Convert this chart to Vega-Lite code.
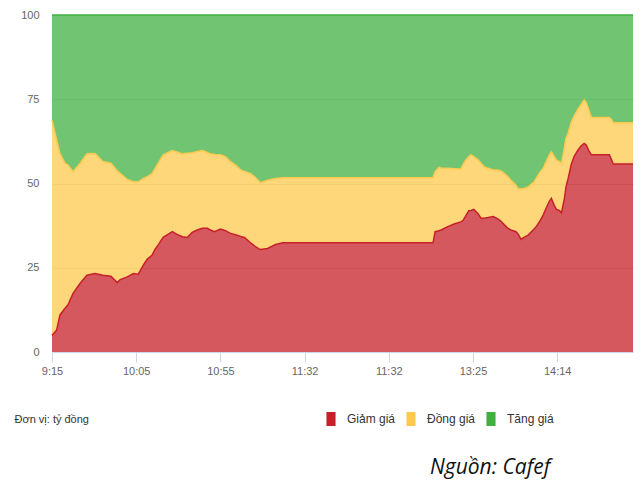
{
  "$schema": "https://vega.github.io/schema/vega-lite/v6.json",
  "width": 581,
  "height": 337,
  "autosize": "none",
  "padding": {"left": 52, "top": 15, "right": 8, "bottom": 131},
  "background": "white",
  "title": {
    "text": "Nguồn: Cafef",
    "orient": "bottom",
    "anchor": "start",
    "dx": 416,
    "offset": 31,
    "font": "Open Sans",
    "fontStyle": "italic",
    "fontWeight": "normal",
    "fontSize": 21,
    "color": "#111111"
  },
  "datasets": {
    "seriesOrder": [
      {"series": "Giảm giá", "rank": 1},
      {"series": "Đồng giá", "rank": 2},
      {"series": "Tăng giá", "rank": 3}
    ]
  },
  "data": {
    "values": [
      {"t": 0, "Giảm giá": 5.0, "Đồng giá": 63.8, "Tăng giá": 31.2},
      {"t": 0.6, "Giảm giá": 5.8, "Đồng giá": 59.7, "Tăng giá": 34.5},
      {"t": 1.1, "Giảm giá": 6.5, "Đồng giá": 56.4, "Tăng giá": 37.1},
      {"t": 1.9, "Giảm giá": 11, "Đồng giá": 47.9, "Tăng giá": 41.1},
      {"t": 3.1, "Giảm giá": 13, "Đồng giá": 43, "Tăng giá": 44},
      {"t": 3.8, "Giảm giá": 14, "Đồng giá": 41.5, "Tăng giá": 44.5},
      {"t": 5, "Giảm giá": 17.4, "Đồng giá": 36.1, "Tăng giá": 46.5},
      {"t": 6.7, "Giảm giá": 20.4, "Đồng giá": 35.6, "Tăng giá": 44},
      {"t": 8.3, "Giảm giá": 22.8, "Đồng giá": 36, "Tăng giá": 41.2},
      {"t": 10.2, "Giảm giá": 23.3, "Đồng giá": 35.6, "Tăng giá": 41.1},
      {"t": 12.1, "Giảm giá": 22.8, "Đồng giá": 33.7, "Tăng giá": 43.5},
      {"t": 14, "Giảm giá": 22.5, "Đồng giá": 33.5, "Tăng giá": 44},
      {"t": 15.5, "Giảm giá": 20.6, "Đồng giá": 33.2, "Tăng giá": 46.2},
      {"t": 16.2, "Giảm giá": 21.5, "Đồng giá": 31.5, "Tăng giá": 47},
      {"t": 17.9, "Giảm giá": 22.3, "Đồng giá": 28.9, "Tăng giá": 48.8},
      {"t": 19.3, "Giảm giá": 23.3, "Đồng giá": 27.2, "Tăng giá": 49.5},
      {"t": 20.5, "Giảm giá": 23.1, "Đồng giá": 27.4, "Tăng giá": 49.5},
      {"t": 21.7, "Giảm giá": 25.8, "Đồng giá": 25.7, "Tăng giá": 48.5},
      {"t": 22.6, "Giảm giá": 27.5, "Đồng giá": 24.5, "Tăng giá": 48},
      {"t": 23.8, "Giảm giá": 28.8, "Đồng giá": 24.2, "Tăng giá": 47},
      {"t": 24.5, "Giảm giá": 30.5, "Đồng giá": 24, "Tăng giá": 45.5},
      {"t": 25.2, "Giảm giá": 31.7, "Đồng giá": 24.3, "Tăng giá": 44},
      {"t": 26.4, "Giảm giá": 34, "Đồng giá": 24.5, "Tăng giá": 41.5},
      {"t": 28.6, "Giảm giá": 35.7, "Đồng giá": 24.1, "Tăng giá": 40.2},
      {"t": 30, "Giảm giá": 34.7, "Đồng giá": 24.5, "Tăng giá": 40.8},
      {"t": 31, "Giảm giá": 34.2, "Đồng giá": 24.6, "Tăng giá": 41.2},
      {"t": 32.1, "Giảm giá": 34, "Đồng giá": 25, "Tăng giá": 41},
      {"t": 33.3, "Giảm giá": 35.5, "Đồng giá": 23.6, "Tăng giá": 40.9},
      {"t": 34.5, "Giảm giá": 36.2, "Đồng giá": 23.3, "Tăng giá": 40.5},
      {"t": 35.7, "Giảm giá": 36.7, "Đồng giá": 23.1, "Tăng giá": 40.2},
      {"t": 36.9, "Giảm giá": 36.7, "Đồng giá": 22.5, "Tăng giá": 40.8},
      {"t": 37.6, "Giảm giá": 36.2, "Đồng giá": 22.6, "Tăng giá": 41.2},
      {"t": 38.6, "Giảm giá": 35.7, "Đồng giá": 22.9, "Tăng giá": 41.4},
      {"t": 40, "Giảm giá": 36.5, "Đồng giá": 22, "Tăng giá": 41.5},
      {"t": 41.2, "Giảm giá": 36, "Đồng giá": 22, "Tăng giá": 42},
      {"t": 42.4, "Giảm giá": 35.2, "Đồng giá": 21.3, "Tăng giá": 43.5},
      {"t": 43.6, "Giảm giá": 34.8, "Đồng giá": 20.7, "Tăng giá": 44.5},
      {"t": 44.8, "Giảm giá": 34.3, "Đồng giá": 19.7, "Tăng giá": 46},
      {"t": 45.7, "Giảm giá": 34, "Đồng giá": 19.6, "Tăng giá": 46.4},
      {"t": 47.1, "Giảm giá": 32.5, "Đồng giá": 20.5, "Tăng giá": 47},
      {"t": 48.3, "Giảm giá": 31.3, "Đồng giá": 20.5, "Tăng giá": 48.2},
      {"t": 49.5, "Giảm giá": 30.4, "Đồng giá": 19.8, "Tăng giá": 49.8},
      {"t": 51.2, "Giảm giá": 30.7, "Đồng giá": 20.3, "Tăng giá": 49},
      {"t": 53.1, "Giảm giá": 31.9, "Đồng giá": 19.6, "Tăng giá": 48.5},
      {"t": 54.8, "Giảm giá": 32.4, "Đồng giá": 19.3, "Tăng giá": 48.3},
      {"t": 90.5, "Giảm giá": 32.4, "Đồng giá": 19.3, "Tăng giá": 48.3},
      {"t": 91, "Giảm giá": 35.7, "Đồng giá": 17.8, "Tăng giá": 46.5},
      {"t": 91.9, "Giảm giá": 36, "Đồng giá": 18.8, "Tăng giá": 45.2},
      {"t": 92.4, "Giảm giá": 36.2, "Đồng giá": 18.4, "Tăng giá": 45.4},
      {"t": 94, "Giảm giá": 37.2, "Đồng giá": 17.3, "Tăng giá": 45.5},
      {"t": 95.5, "Giảm giá": 38, "Đồng giá": 16.4, "Tăng giá": 45.6},
      {"t": 97.1, "Giảm giá": 38.6, "Đồng giá": 15.7, "Tăng giá": 45.7},
      {"t": 97.6, "Giảm giá": 39, "Đồng giá": 16.5, "Tăng giá": 44.5},
      {"t": 98.3, "Giảm giá": 40.5, "Đồng giá": 16.5, "Tăng giá": 43},
      {"t": 99, "Giảm giá": 41.9, "Đồng giá": 16.1, "Tăng giá": 42},
      {"t": 99.5, "Giảm giá": 42, "Đồng giá": 16.5, "Tăng giá": 41.5},
      {"t": 100.2, "Giảm giá": 42.3, "Đồng giá": 15.7, "Tăng giá": 42},
      {"t": 101.2, "Giảm giá": 41, "Đồng giá": 16, "Tăng giá": 43},
      {"t": 101.9, "Giảm giá": 39.7, "Đồng giá": 16.3, "Tăng giá": 44},
      {"t": 102.6, "Giảm giá": 39.7, "Đồng giá": 15.3, "Tăng giá": 45},
      {"t": 103.6, "Giảm giá": 39.9, "Đồng giá": 14.6, "Tăng giá": 45.5},
      {"t": 104.8, "Giảm giá": 40.2, "Đồng giá": 13.8, "Tăng giá": 46},
      {"t": 105.9, "Giảm giá": 39.5, "Đồng giá": 14.5, "Tăng giá": 46},
      {"t": 106.7, "Giảm giá": 38.7, "Đồng giá": 15, "Tăng giá": 46.3},
      {"t": 107.4, "Giảm giá": 37.8, "Đồng giá": 15.2, "Tăng giá": 47},
      {"t": 108.3, "Giảm giá": 36.7, "Đồng giá": 15.3, "Tăng giá": 48},
      {"t": 109, "Giảm giá": 36.2, "Đồng giá": 14.8, "Tăng giá": 49},
      {"t": 110.2, "Giảm giá": 35.7, "Đồng giá": 13.8, "Tăng giá": 50.5},
      {"t": 110.7, "Giảm giá": 35, "Đồng giá": 13.5, "Tăng giá": 51.5},
      {"t": 111.4, "Giảm giá": 33.4, "Đồng giá": 15, "Tăng giá": 51.6},
      {"t": 112.1, "Giảm giá": 34, "Đồng giá": 14.5, "Tăng giá": 51.5},
      {"t": 113.1, "Giảm giá": 34.7, "Đồng giá": 14.3, "Tăng giá": 51},
      {"t": 114.5, "Giảm giá": 36.5, "Đồng giá": 14, "Tăng giá": 49.5},
      {"t": 115, "Giảm giá": 37.2, "Đồng giá": 14.3, "Tăng giá": 48.5},
      {"t": 115.7, "Giảm giá": 38.5, "Đồng giá": 14.5, "Tăng giá": 47},
      {"t": 116.7, "Giảm giá": 40.7, "Đồng giá": 13.8, "Tăng giá": 45.5},
      {"t": 117.4, "Giảm giá": 42.8, "Đồng giá": 13.7, "Tăng giá": 43.5},
      {"t": 118.1, "Giảm giá": 44.6, "Đồng giá": 13.9, "Tăng giá": 41.5},
      {"t": 118.6, "Giảm giá": 45.6, "Đồng giá": 13.8, "Tăng giá": 40.6},
      {"t": 119.3, "Giảm giá": 43.5, "Đồng giá": 14.5, "Tăng giá": 42},
      {"t": 119.8, "Giảm giá": 42.3, "Đồng giá": 14.7, "Tăng giá": 43},
      {"t": 120.5, "Giảm giá": 42, "Đồng giá": 14.5, "Tăng giá": 43.5},
      {"t": 121, "Giảm giá": 41.3, "Đồng giá": 14.7, "Tăng giá": 44},
      {"t": 121.7, "Giảm giá": 45.5, "Đồng giá": 15, "Tăng giá": 39.5},
      {"t": 122.1, "Giảm giá": 49.1, "Đồng giá": 14.4, "Tăng giá": 36.5},
      {"t": 122.6, "Giảm giá": 51.5, "Đồng giá": 13.5, "Tăng giá": 35},
      {"t": 123.3, "Giảm giá": 55.5, "Đồng giá": 12.5, "Tăng giá": 32},
      {"t": 124, "Giảm giá": 58, "Đồng giá": 12, "Tăng giá": 30},
      {"t": 124.9, "Giảm giá": 59.9, "Đồng giá": 12.1, "Tăng giá": 28},
      {"t": 125.7, "Giảm giá": 61.2, "Đồng giá": 12.3, "Tăng giá": 26.5},
      {"t": 126.4, "Giảm giá": 61.9, "Đồng giá": 12.9, "Tăng giá": 25.2},
      {"t": 126.9, "Giảm giá": 61.4, "Đồng giá": 12.6, "Tăng giá": 26},
      {"t": 127.6, "Giảm giá": 59.5, "Đồng giá": 12, "Tăng giá": 28.5},
      {"t": 128.1, "Giảm giá": 58.5, "Đồng giá": 11.1, "Tăng giá": 30.4},
      {"t": 132.4, "Giảm giá": 58.5, "Đồng giá": 11.1, "Tăng giá": 30.4},
      {"t": 132.9, "Giảm giá": 57, "Đồng giá": 12, "Tăng giá": 31},
      {"t": 133.3, "Giảm giá": 55.8, "Đồng giá": 12.2, "Tăng giá": 32},
      {"t": 138, "Giảm giá": 55.8, "Đồng giá": 12.2, "Tăng giá": 32}
    ]
  },
  "transform": [
    {"fold": ["Giảm giá", "Đồng giá", "Tăng giá"], "as": ["series", "v"]},
    {"lookup": "series", "from": {"data": {"name": "seriesOrder"}, "key": "series", "fields": ["rank"]}}
  ],
  "mark": {
    "type": "area",
    "fillOpacity": 0.75,
    "line": {"strokeWidth": 1.5},
    "interpolate": "linear"
  },
  "encoding": {
    "x": {
      "field": "t",
      "type": "quantitative",
      "scale": {"domain": [0, 138], "nice": false, "zero": false},
      "axis": {
        "values": [0, 20, 40, 60, 80, 100, 120],
        "labelExpr": "datum.value == 0 ? '9:15' : datum.value == 20 ? '10:05' : datum.value == 40 ? '10:55' : datum.value == 60 ? '11:32' : datum.value == 80 ? '11:32' : datum.value == 100 ? '13:25' : '14:14'",
        "grid": false,
        "domainColor": "#ccd6eb",
        "tickColor": "#ccd6eb",
        "tickSize": 10,
        "labelPadding": 3,
        "labelColor": "#666666",
        "labelFont": "Liberation Sans",
        "labelFontSize": 11,
        "labelFlush": false,
        "title": "Đơn vị: tỷ đồng",
        "titleX": -38,
        "titleY": 67,
        "titleAlign": "left",
        "titleAnchor": null,
        "titleBaseline": "middle",
        "titleFont": "Liberation Sans",
        "titleFontSize": 11,
        "titleFontWeight": "normal",
        "titleColor": "#333333"
      }
    },
    "y": {
      "field": "v",
      "type": "quantitative",
      "stack": "zero",
      "scale": {"domain": [0, 100], "nice": false},
      "axis": {
        "values": [0, 25, 50, 75, 100],
        "domain": false,
        "ticks": false,
        "labelPadding": 13,
        "labelColor": "#666666",
        "labelFont": "Liberation Sans",
        "labelFontSize": 11,
        "gridColor": "#dddddd",
        "title": null
      }
    },
    "order": {"field": "rank", "type": "quantitative", "sort": "ascending"},
    "color": {
      "field": "series",
      "type": "nominal",
      "sort": ["Giảm giá", "Đồng giá", "Tăng giá"],
      "scale": {
        "domain": ["Giảm giá", "Đồng giá", "Tăng giá"],
        "range": ["#c8202a", "#fdca4f", "#42b041"]
      },
      "legend": {
        "title": null,
        "orient": "none",
        "legendX": 272,
        "legendY": 397,
        "direction": "horizontal",
        "gridAlign": "none",
        "symbolType": "M-0.65,-1H0.65V1H-0.65Z",
        "symbolSize": 196,
        "symbolStrokeWidth": 0,
        "symbolOpacity": 1,
        "labelFont": "Liberation Sans",
        "labelFontSize": 12,
        "labelColor": "#333333",
        "labelOffset": 9,
        "columnPadding": 8
      }
    }
  },
  "config": {
    "view": {"stroke": null}
  }
}
